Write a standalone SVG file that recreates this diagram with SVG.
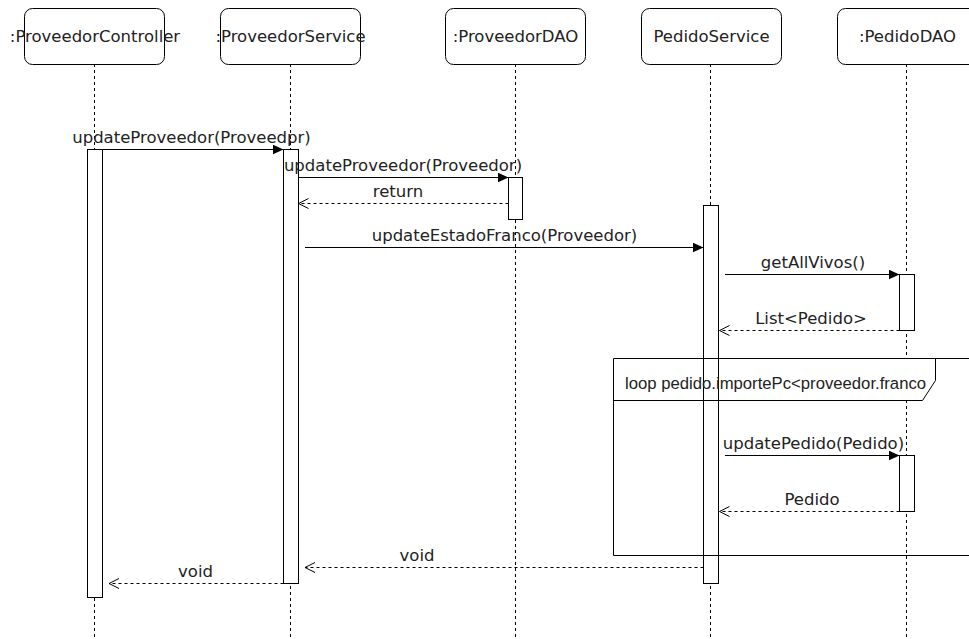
<svg xmlns="http://www.w3.org/2000/svg" width="969" height="639" viewBox="0 0 969 639">
<defs>
<style>
.box{fill:#fff;stroke:#000;stroke-width:1}
.life{stroke:#000;stroke-width:1;stroke-dasharray:3 3;fill:none}
.act{fill:#fff;stroke:#000;stroke-width:1}
.msg{stroke:#000;stroke-width:1;fill:none}
.ret{stroke:#000;stroke-width:1;fill:none;stroke-dasharray:3 3}
.t{font-family:"DejaVu Sans",Verdana,sans-serif;font-size:16.5px;fill:#222;text-anchor:middle}
.lt{font-family:"Liberation Sans",Arial,sans-serif;font-size:16.7px;fill:#222}
.frame{fill:none;stroke:#000;stroke-width:1}
</style>
<marker id="fill" viewBox="0 0 11 10" refX="11" refY="5" markerWidth="11" markerHeight="10" markerUnits="userSpaceOnUse" orient="auto">
<path d="M0,0 L11,5 L0,10 Z" fill="#000"/>
</marker>
<marker id="open" viewBox="0 0 12 12" refX="11" refY="6" markerWidth="12" markerHeight="12" markerUnits="userSpaceOnUse" orient="auto">
<path d="M1,1 L11,6 L1,11" fill="none" stroke="#000" stroke-width="1"/>
</marker>
</defs>
<rect width="969" height="639" fill="#fff"/>

<g id="lifelines">
<line class="life" x1="94.5" y1="64" x2="94.5" y2="639"/>
<line class="life" x1="290.5" y1="64" x2="290.5" y2="639"/>
<line class="life" x1="515.5" y1="64" x2="515.5" y2="639"/>
<line class="life" x1="710.5" y1="64" x2="710.5" y2="639"/>
<line class="life" x1="906.5" y1="64" x2="906.5" y2="639"/>
</g>

<g id="ProveedorController">
<rect class="box" x="24.5" y="8.5" width="140" height="56" rx="8" ry="8"/>
<text class="t" x="95" y="42">:ProveedorController</text>
</g>
<g id="ProveedorService">
<rect class="box" x="220.5" y="8.5" width="140" height="56" rx="8" ry="8"/>
<text class="t" x="290.5" y="42">:ProveedorService</text>
</g>
<g id="ProveedorDAO">
<rect class="box" x="445.5" y="8.5" width="140" height="56" rx="8" ry="8"/>
<text class="t" x="515.5" y="42">:ProveedorDAO</text>
</g>
<g id="PedidoService">
<rect class="box" x="641.5" y="8.5" width="140" height="56" rx="8" ry="8"/>
<text class="t" x="711.5" y="42">PedidoService</text>
</g>
<g id="PedidoDAO">
<rect class="box" x="837.5" y="8.5" width="140" height="56" rx="8" ry="8"/>
<text class="t" x="907.5" y="42">:PedidoDAO</text>
</g>

<path d="M613.5,358.5 H935.5 V380.5 L922.5,400.5 H613.5 Z" fill="#fff"/>

<g id="activations">
<rect class="act" x="87.5" y="149.5" width="15" height="448"/>
<rect class="act" x="283.5" y="149.5" width="15" height="434"/>
<rect class="act" x="508.5" y="177.5" width="14" height="42"/>
<rect class="act" x="703.5" y="205.5" width="15" height="378"/>
<rect class="act" x="899.5" y="274.5" width="15" height="56"/>
<rect class="act" x="899.5" y="455.5" width="15" height="56"/>
</g>

<g id="loop">
<path class="frame" d="M969,358.5 H613.5 V555.5 H969"/>
<path class="frame" d="M613.5,400.5 H922.5 L935.5,380.5 V358.5"/>
<text class="lt" x="625" y="389">loop pedido.importePc&lt;proveedor.franco</text>
</g>

<g id="connectors">
<line class="msg" x1="102.5" y1="149.5" x2="283.5" y2="149.5" marker-end="url(#fill)"/>
<text class="t" x="191.5" y="143">updateProveedor(Proveedpr)</text>
<line class="msg" x1="298.5" y1="177.5" x2="508.5" y2="177.5" marker-end="url(#fill)"/>
<text class="t" x="403" y="171">updateProveedor(Proveedor)</text>
<line class="ret" x1="508.5" y1="203.5" x2="298.5" y2="203.5" marker-end="url(#open)"/>
<text class="t" x="398" y="197">return</text>
<line class="msg" x1="305" y1="247.5" x2="703.5" y2="247.5" marker-end="url(#fill)"/>
<text class="t" x="504.5" y="241">updateEstadoFranco(Proveedor)</text>
<line class="msg" x1="725" y1="274.5" x2="899.5" y2="274.5" marker-end="url(#fill)"/>
<text class="t" x="813" y="268">getAllVivos()</text>
<line class="ret" x1="899.5" y1="330.5" x2="719.5" y2="330.5" marker-end="url(#open)"/>
<text class="t" x="811" y="324">List&lt;Pedido&gt;</text>
<line class="msg" x1="725" y1="455.5" x2="899.5" y2="455.5" marker-end="url(#fill)"/>
<text class="t" x="813.5" y="449">updatePedido(Pedido)</text>
<line class="ret" x1="899.5" y1="511.5" x2="719.5" y2="511.5" marker-end="url(#open)"/>
<text class="t" x="812" y="505">Pedido</text>
<line class="ret" x1="703.5" y1="567.5" x2="305" y2="567.5" marker-end="url(#open)"/>
<text class="t" x="417" y="561">void</text>
<line class="ret" x1="283.5" y1="583.5" x2="109" y2="583.5" marker-end="url(#open)"/>
<text class="t" x="195.5" y="577">void</text>
</g>
</svg>
